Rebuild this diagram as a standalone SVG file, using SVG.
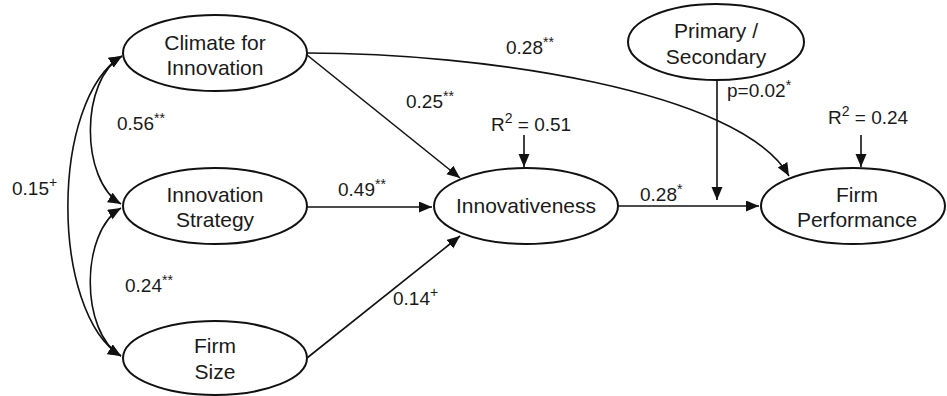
<svg xmlns="http://www.w3.org/2000/svg" width="947" height="396" viewBox="0 0 947 396">
<style>
.node ellipse{fill:#fff;stroke:#111;stroke-width:2}
.nt{font-family:"Liberation Sans",Arial,sans-serif;font-size:21px;fill:#1a1a1a;text-anchor:middle}
.lb{font-family:"Liberation Sans",Arial,sans-serif;font-size:19px;fill:#1a1a1a}
.sup{font-size:14px}
#connectors path,#connectors line{fill:none;stroke:#111;stroke-width:1.6}
</style>
<defs>
<marker id="ah" markerUnits="userSpaceOnUse" markerWidth="14" markerHeight="12" refX="13" refY="5.5" orient="auto-start-reverse">
<path d="M0,0 L13,5.5 L0,11 z" fill="#111"/>
</marker>
</defs>
<rect width="947" height="396" fill="#fff"/>
<g id="connectors">
<path d="M122,56 C80,80 80,180 121,204" marker-start="url(#ah)" marker-end="url(#ah)"/>
<path d="M121,208 C80,232 80,332 121,356" marker-start="url(#ah)" marker-end="url(#ah)"/>
<path d="M122,56 C50,100 50,312 121,356" marker-start="url(#ah)" marker-end="url(#ah)"/>
<line x1="307" y1="55" x2="460" y2="178" marker-end="url(#ah)"/>
<line x1="307" y1="207" x2="432" y2="207" marker-end="url(#ah)"/>
<line x1="307" y1="358" x2="460" y2="236" marker-end="url(#ah)"/>
<path d="M307,53 C480,53 740,90 789,176" marker-end="url(#ah)"/>
<line x1="618" y1="206" x2="759" y2="206" marker-end="url(#ah)"/>
<line x1="717" y1="80" x2="717" y2="200" marker-end="url(#ah)"/>
<line x1="524" y1="135" x2="524" y2="167" marker-end="url(#ah)"/>
<line x1="861" y1="135" x2="861" y2="167" marker-end="url(#ah)"/>
</g>
<g id="climate" class="node"><ellipse cx="215" cy="53" rx="92" ry="38"/><text class="nt" x="215" y="50">Climate for</text><text class="nt" x="215" y="75">Innovation</text></g>
<g id="strategy" class="node"><ellipse cx="215" cy="206" rx="92" ry="38"/><text class="nt" x="215" y="202">Innovation</text><text class="nt" x="215" y="227">Strategy</text></g>
<g id="firmsize" class="node"><ellipse cx="215" cy="358" rx="92" ry="37"/><text class="nt" x="215" y="353">Firm</text><text class="nt" x="215" y="379">Size</text></g>
<g id="innovativeness" class="node"><ellipse cx="526" cy="206" rx="92" ry="38"/><text class="nt" x="526" y="213">Innovativeness</text></g>
<g id="primary" class="node"><ellipse cx="716" cy="42" rx="88" ry="38"/><text class="nt" x="716" y="38">Primary /</text><text class="nt" x="716" y="64">Secondary</text></g>
<g id="performance" class="node"><ellipse cx="853" cy="206" rx="92" ry="38"/><text class="nt" x="857" y="202">Firm</text><text class="nt" x="857" y="227">Performance</text></g>
<g id="labels">
<text class="lb" x="117" y="130">0.56<tspan class="sup" dy="-7">**</tspan></text>
<text class="lb" x="12" y="195">0.15<tspan class="sup" dy="-8">+</tspan></text>
<text class="lb" x="125" y="292">0.24<tspan class="sup" dy="-7">**</tspan></text>
<text class="lb" x="506" y="54">0.28<tspan class="sup" dy="-7">**</tspan></text>
<text class="lb" x="406" y="108">0.25<tspan class="sup" dy="-7">**</tspan></text>
<text class="lb" x="491" y="131">R<tspan class="sup" dy="-8">2</tspan><tspan dy="8"> = 0.51</tspan></text>
<text class="lb" x="338" y="196">0.49<tspan class="sup" dy="-7">**</tspan></text>
<text class="lb" x="393" y="305">0.14<tspan class="sup" dy="-8">+</tspan></text>
<text class="lb" x="640" y="201">0.28<tspan class="sup" dy="-7">*</tspan></text>
<text class="lb" x="727" y="97">p=0.02<tspan class="sup" dy="-7">*</tspan></text>
<text class="lb" x="828" y="124">R<tspan class="sup" dy="-8">2</tspan><tspan dy="8"> = 0.24</tspan></text>
</g>
</svg>
